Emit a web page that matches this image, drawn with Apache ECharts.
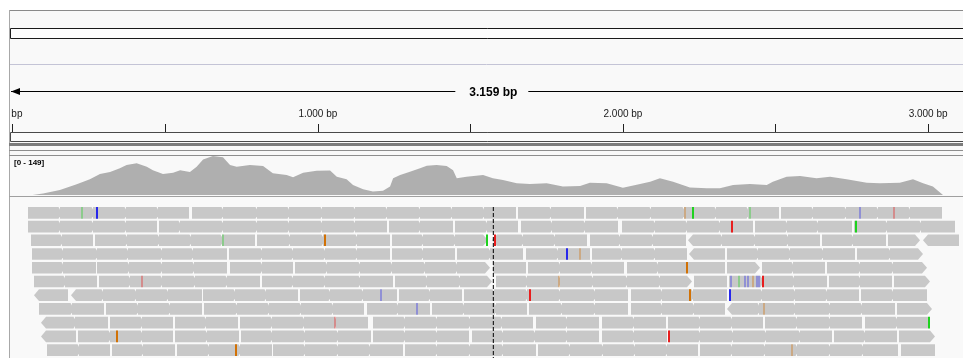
<!DOCTYPE html>
<html>
<head>
<meta charset="utf-8">
<script src="https://cdn.jsdelivr.net/npm/echarts@6/dist/echarts.min.js"></script>
<style>
  html, body { margin: 0; padding: 0; background: #ffffff; }
  #chart { width: 963px; height: 358px; }
</style>
</head>
<body>
<div id="chart"></div>
<script>
// ---- Region and ruler ----
const VIEW_END = 3114.4;     // bp at the right edge of the panel
const SPAN_BP = 3159;        // length of the displayed locus
const CENTER_BP = 1579.5;    // centre line
const RULER_TICK = 500;
const RULER_MAJOR = 1000;
const RULER_TICKS = [0, 500, 1000, 1500, 2000, 2500, 3000];
const RULER_LABELS = [0, 1000, 2000, 3000];
const COVERAGE_MAX = 149;

// ---- Coverage track: [position bp, depth] ----
const coverage = [
  [74,0],[108,6],[163,19],[218,41],[261,60],[294,80],[327,88],[359,102],[381,115],[414,121],
  [447,108],[467,95],[500,80],[533,85],[556,95],[588,88],[610,108],[631,136],[663,149],[696,144],
  [719,115],[741,108],[784,115],[827,111],[859,83],[904,76],[925,68],[958,85],[1002,93],[1046,94],
  [1068,70],[1100,60],[1121,38],[1154,22],[1186,13],[1219,16],[1242,32],[1252,64],[1275,76],[1307,89],
  [1340,102],[1362,112],[1394,115],[1427,111],[1448,95],[1460,64],[1492,70],[1546,76],[1578,64],[1611,57],
  [1656,45],[1699,42],[1754,45],[1807,32],[1863,34],[1895,47],[1950,45],[2003,28],[2048,39],[2092,51],
  [2124,64],[2167,51],[2222,29],[2277,26],[2320,26],[2363,38],[2418,42],[2473,38],[2493,51],[2538,70],
  [2582,73],[2636,64],[2680,70],[2734,60],[2800,47],[2843,45],[2908,47],[2951,60],[2984,45],[3016,32],
  [3049,0]
];

// ---- Alignment rows: runs of abutting reads, boundaries in bp ----
// rev: first read of the run is on the reverse strand; fwd: last read is forward strand
const row0 = [
  {b:[58,163,271,379,484,586]},
  {b:[594,696,807,912,1020,1127,1232,1340,1444,1549,1654]},
  {b:[1659,1768,1876]},
  {b:[1882,1987,2095,2203,2307,2412,2513]},
  {b:[2520,2624,2732,2837,2941,3046]}
];
const row1 = [
  {b:[58,163,271,379,481]},
  {b:[488,556,696,807,912,1020,1127,1233]},
  {b:[1240,1340,1447]},
  {b:[1454,1559,1661]},
  {b:[1669,1771,1879,1988]},
  {b:[1999,2108,2212,2320,2427]},
  {b:[2434,2539,2641,2751]},
  {b:[2758,2866,2977,3088]}
];
const row2 = [
  {b:[68,170,272]},
  {b:[279,382,487,592,693,801]},
  {b:[808,915,1023,1134,1242]},
  {b:[1248,1350,1454,1562], fwd:1},
  {b:[1574,1676,1781,1887], rev:1},
  {b:[1895,1993,2101,2209]},
  {b:[2217,2327,2435,2543,2647], rev:1},
  {b:[2655,2755,2863]},
  {b:[2870,2974], fwd:1},
  {b:[2985,3102], rev:1}
];
const row3 = [
  {b:[71,173,284,386,497,598,708]},
  {b:[715,824,925,1029,1134,1242]},
  {b:[1248,1350,1454]},
  {b:[1461,1569,1677]},
  {b:[1686,1791,1895]},
  {b:[1902,2000,2108,2211]},
  {b:[2220,2337], rev:1},
  {b:[2342,2444,2549,2657,2761]},
  {b:[2767,2876,2985], fwd:1}
];
const row4 = [
  {b:[71,173,280]},
  {b:[285,389,497,601,708]},
  {b:[719,824,926]},
  {b:[932,1036,1144,1248,1356,1461,1569], fwd:1},
  {b:[1578,1686]},
  {b:[1694,1797,1902,2008]},
  {b:[2015,2118,2216,2337]},
  {b:[2342,2451], fwd:1},
  {b:[2458,2559,2663]},
  {b:[2669,2778,2886,2996], fwd:1}
];
const row5 = [
  {b:[78,180,283]},
  {b:[290,392,497,605,709,817]},
  {b:[825,925,1029,1144,1251]},
  {b:[1258,1363,1471,1575], fwd:1},
  {b:[1588,1690,1797,1905,2016,2124,2229], fwd:1},
  {b:[2235,2342]},
  {b:[2351,2458,2562,2669]},
  {b:[2676,2778,2881]},
  {b:[2890,3007], fwd:1}
];
const row6 = [
  {b:[79,191], rev:1},
  {b:[198,304,412,516,626], rev:1},
  {b:[632,735,837,940]},
  {b:[948,1046,1154,1264]},
  {b:[1271,1373,1476]},
  {b:[1484,1582,1690,1797,1912,2021]},
  {b:[2028,2131,2232,2343]},
  {b:[2350,2458,2565,2670,2776]},
  {b:[2782,2886,2996]}
];
const row7 = [
  {b:[96,203,308]},
  {b:[315,418,523,626]},
  {b:[634,742,846,951,1056,1158]},
  {b:[1166,1268,1373]},
  {b:[1380,1484,1588,1691]},
  {b:[1697,1804,1912,2021]},
  {b:[2028,2131,2235,2337]},
  {b:[2342,2448,2565,2680,2784,2892], rev:1},
  {b:[2900,3012], fwd:1}
];
const row8 = [
  {b:[100,212,321], rev:1},
  {b:[327,431,534]},
  {b:[540,641,744]},
  {b:[752,856,961,1065,1171]},
  {b:[1185,1291,1395,1503,1608,1710]},
  {b:[1718,1820,1926]},
  {b:[1935,2039,2144]},
  {b:[2151,2255,2360,2460]},
  {b:[2467,2572,2680,2785]},
  {b:[2794,2899,2999]}
];
const row9 = [
  {b:[100,216], rev:1},
  {b:[221,327,431,534]},
  {b:[540,644,747]},
  {b:[754,856,964,1072,1179]},
  {b:[1185,1291,1395,1501]},
  {b:[1509,1611,1716,1820,1926]},
  {b:[1934,2039,2148]},
  {b:[2155,2255,2363,2471,2582,2685]},
  {b:[2693,2794,2898]},
  {b:[2906,3023], fwd:1}
];
const row10 = [
  {b:[122,225,327]},
  {b:[333,435,539]},
  {b:[546,650,752,855]},
  {b:[860,964,1072,1176,1285]},
  {b:[1292,1395,1503,1611,1719]},
  {b:[1726,1830,1938,2043,2147,2249]},
  {b:[2255,2360,2467,2572,2680,2788,2903]},
  {b:[2911,3023]}
];
const readRows = [row0, row1, row2, row3, row4, row5, row6, row7, row8, row9, row10];

// ---- Mismatched bases: [position bp, row, base, high quality?] ----
const mismatches = [
  [231,0,'A',0],[280,0,'C',1],[2204,0,'G',0],[2230,0,'A',1],[2415,0,'A',0],[2776,0,'C',0],[2885,0,'T',0],
  [2355,1,'T',1],[2761,1,'A',1],
  [692,2,'A',0],[1026,2,'G',1],[1556,2,'A',1],[1582,2,'T',1],
  [1817,3,'C',1],[1861,3,'G',0],
  [2209,4,'G',1],
  [427,5,'T',0],[1792,5,'G',0],[2353,5,'C',0],[2380,5,'A',0],[2400,5,'C',0],[2410,5,'C',0],
  [2424,5,'G',0],[2438,5,'C',0],[2445,5,'C',0],[2458,5,'T',1],
  [1209,6,'C',0],[1697,6,'T',1],[2220,6,'G',1],[2351,6,'C',1],
  [1327,7,'C',0],[2462,7,'G',0],
  [1060,8,'T',0],[2999,8,'A',1],
  [346,9,'G',1],[2151,9,'T',1],
  [736,10,'G',1],[2551,10,'G',0]
];

// ---- Build read records: [start, end, row, leftShape, rightShape] ----
// shapes: 0 flat, 1 arrow, 2 small junction nick
const reads = [];
readRows.forEach((runs, r) => {
  runs.forEach(run => {
    const n = run.b.length - 1;
    for (let k = 0; k < n; k++) {
      const left = (k === 0 && run.rev) ? 1 : 0;
      const right = (k === n - 1) ? (run.fwd ? 1 : 0) : 2;
      reads.push([run.b[k], run.b[k + 1], r, left, right]);
    }
  });
});

const BASE_COLORS = { A: [30, 210, 30], C: [40, 40, 235], G: [209, 113, 5], T: [232, 30, 30] };
const FONT = '"Liberation Sans", Arial, sans-serif';

function groupDigits(v) {
  return String(v).replace(/\B(?=(\d{3})+(?!\d))/g, '.');
}

const chart = echarts.init(document.getElementById('chart'), null, { renderer: 'canvas' });

const hiddenX = (i) => ({ type: 'value', gridIndex: i, min: 0, max: VIEW_END, show: false });

chart.setOption({
  animation: false,
  backgroundColor: '#ffffff',
  grid: [
    { left: 10, right: 0, top: 100, height: 32 },   // ruler
    { left: 10, right: 0, top: 81, height: 19 },    // locus span arrow
    { left: 10, right: 0, top: 156, height: 39 },   // coverage
    { left: 10, right: 0, top: 207, height: 159.5 } // alignments
  ],
  xAxis: [
    {
      type: 'value', gridIndex: 0, min: 0, max: VIEW_END, interval: RULER_TICK,
      axisLine: { show: true, lineStyle: { color: '#333333', width: 1 } },
      axisTick: { show: true, inside: true, length: 8, customValues: RULER_TICKS,
                  lineStyle: { color: '#222222' } },
      axisLabel: {
        show: true, inside: true, margin: 13, color: '#1a1a1a', fontSize: 10, fontFamily: FONT,
        customValues: RULER_LABELS,
        formatter: v => groupDigits(v) + ' bp'
      },
      splitLine: { show: false }
    },
    hiddenX(1), hiddenX(2), hiddenX(3)
  ],
  yAxis: [
    { type: 'value', gridIndex: 0, show: false, min: 0, max: 1 },
    { type: 'value', gridIndex: 1, show: false, min: 0, max: 1 },
    { type: 'value', gridIndex: 2, show: false, min: 0, max: COVERAGE_MAX },
    { type: 'value', gridIndex: 3, show: false, min: 0, max: 11, inverse: true }
  ],
  series: [
    {
      // locus span with arrow and length label
      type: 'custom', xAxisIndex: 1, yAxisIndex: 1, silent: true,
      data: [[0, SPAN_BP]],
      renderItem: (params, api) => {
        const a = api.coord([api.value(0), 0.5]);
        const b = api.coord([api.value(1), 0.5]);
        const m = api.coord([(api.value(0) + api.value(1)) / 2, 0.5]);
        const y = Math.round(a[1]) + 0.5;
        const stroke = { stroke: '#000000', lineWidth: 1 };
        return {
          type: 'group',
          children: [
            { type: 'line', shape: { x1: a[0] + 1, y1: y, x2: m[0] - 38, y2: y }, style: stroke },
            { type: 'line', shape: { x1: m[0] + 35, y1: y, x2: b[0], y2: y }, style: stroke },
            { type: 'polygon', shape: { points: [[a[0] + 1, y], [a[0] + 10, y - 3.5], [a[0] + 10, y + 3.5]] },
              style: { fill: '#000000' } },
            { type: 'text', x: m[0], y: y + 1,
              style: { text: groupDigits(SPAN_BP) + ' bp', fill: '#000000', font: 'bold 12px ' + FONT,
                       align: 'center', verticalAlign: 'middle' } }
          ]
        };
      }
    },
    {
      // coverage histogram
      type: 'line', xAxisIndex: 2, yAxisIndex: 2, silent: true,
      data: coverage, showSymbol: false,
      lineStyle: { width: 0 },
      areaStyle: { color: '#afafaf', opacity: 1 }
    },
    {
      // aligned reads
      type: 'custom', xAxisIndex: 3, yAxisIndex: 3, silent: true,
      data: reads,
      renderItem: (params, api) => {
        const p1 = api.coord([api.value(0), api.value(2)]);
        const p2 = api.coord([api.value(1), api.value(2)]);
        const h = api.size([0, 1])[1] * 0.85;
        const x0 = Math.round(p1[0]), x1 = Math.round(p2[0]);
        const y0 = p1[1], y1 = y0 + h, ym = y0 + h / 2;
        const L = api.value(3), R = api.value(4);
        const A = 5;
        const pts = [];
        pts.push(L === 1 ? [x0 + A, y0] : [x0, y0]);
        if (R === 1) { pts.push([x1 - A, y0], [x1, ym], [x1 - A, y1]); }
        else if (R === 2) { pts.push([x1 - 1.5, y0], [x1, y0 + 2.5], [x1, y1 - 2.5], [x1 - 1.5, y1]); }
        else { pts.push([x1, y0], [x1, y1]); }
        if (L === 1) { pts.push([x0 + A, y1], [x0, ym]); }
        else { pts.push([x0, y1]); }
        return { type: 'polygon', shape: { points: pts }, style: { fill: '#c8c8c8' } };
      }
    },
    {
      // mismatched bases
      type: 'custom', xAxisIndex: 3, yAxisIndex: 3, silent: true, z: 3,
      data: mismatches,
      renderItem: (params, api) => {
        const d = mismatches[params.dataIndex];
        const p = api.coord([d[0], d[1]]);
        const h = api.size([0, 1])[1] * 0.85;
        const w = Math.max(2, api.size([1, 0])[0]);
        const c = BASE_COLORS[d[2]];
        const alpha = d[3] ? 1 : 0.35;
        return {
          type: 'rect',
          shape: { x: Math.round(p[0]), y: p[1], width: w, height: h },
          style: { fill: `rgba(${c[0]},${c[1]},${c[2]},${alpha})` }
        };
      }
    },
    {
      // centre line
      type: 'line', xAxisIndex: 3, yAxisIndex: 3, silent: true, z: 4,
      data: [[CENTER_BP, 0], [CENTER_BP, 11]], showSymbol: false,
      lineStyle: { color: '#000000', width: 1, type: [4, 2] }
    }
  ],
  graphic: [
    { type: 'rect', z: -10, shape: { x: 9, y: 10, width: 954, height: 348 }, style: { fill: '#f9f9f9' } },
    { type: 'line', z: 1, shape: { x1: 9, y1: 10.5, x2: 963, y2: 10.5 }, style: { stroke: '#8a8a8a', lineWidth: 1 } },
    { type: 'line', z: 1, shape: { x1: 9.5, y1: 10, x2: 9.5, y2: 358 }, style: { stroke: '#a8a8a8', lineWidth: 1 } },
    { type: 'rect', z: 1, shape: { x: 10.5, y: 28.5, width: 970, height: 10 }, style: { fill: '#fdfdfd', stroke: '#1a1a1a', lineWidth: 1 } },
    { type: 'line', z: 1, shape: { x1: 10, y1: 64.5, x2: 963, y2: 64.5 }, style: { stroke: '#c4c4d6', lineWidth: 1 } },
    { type: 'rect', z: 1, shape: { x: 10.5, y: 132.5, width: 970, height: 9 }, style: { fill: '#fbfbfb', stroke: '#4a4a4a', lineWidth: 1 } },
    { type: 'rect', z: 1, shape: { x: 9, y: 143, width: 954, height: 3 }, style: { fill: '#7c7c7c' } },
    { type: 'line', z: 1, shape: { x1: 9, y1: 150.5, x2: 963, y2: 150.5 }, style: { stroke: '#8e8e8e', lineWidth: 1 } },
    { type: 'line', z: 1, shape: { x1: 9, y1: 155.5, x2: 963, y2: 155.5 }, style: { stroke: '#8e8e8e', lineWidth: 1 } },
    { type: 'line', z: 1, shape: { x1: 9, y1: 196.5, x2: 963, y2: 196.5 }, style: { stroke: '#a0a0a0', lineWidth: 1 } },
    { type: 'text', z: 5, x: 14, y: 163,
      style: { text: '[0 - ' + COVERAGE_MAX + ']', fill: '#000000', font: 'bold 8px ' + FONT, verticalAlign: 'middle' } },
    { type: 'rect', z: 100, shape: { x: 0, y: 100, width: 9, height: 28 }, style: { fill: '#ffffff' } }
  ]
});
</script>
</body>
</html>
